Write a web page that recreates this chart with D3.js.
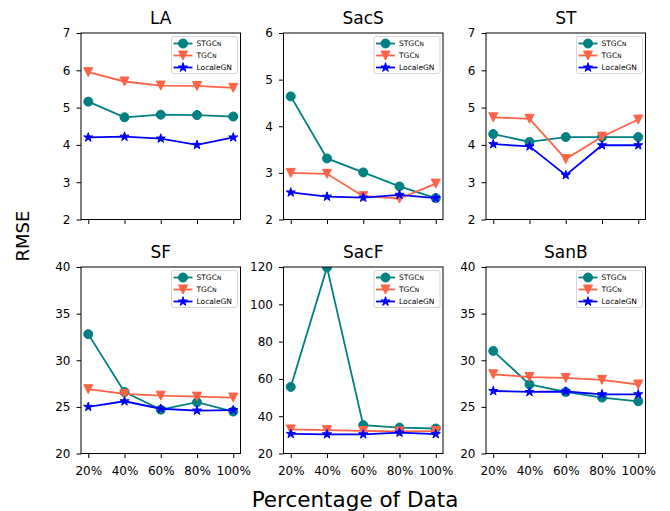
<!DOCTYPE html>
<html>
<head>
<meta charset="utf-8">
<script src="https://cdn.jsdelivr.net/npm/d3@7"></script>
<style>
  body { margin: 0; background: #fff; }
  text { font-family: "DejaVu Sans", sans-serif; }
</style>
</head>
<body>
<div class="container"></div>
<script>
const w = 670;
const h = 511;

// data
const percentLabels = ['20%', '40%', '60%', '80%', '100%'];
const panelNames = ['LA', 'SacS', 'ST', 'SF', 'SacF', 'SanB'];
const yDomains = [[2, 7], [2, 6], [2, 7], [20, 40], [20, 120], [20, 40]];
const yTicks = [
  [2, 3, 4, 5, 6, 7],
  [2, 3, 4, 5, 6],
  [2, 3, 4, 5, 6, 7],
  [20, 25, 30, 35, 40],
  [20, 40, 60, 80, 100, 120],
  [20, 25, 30, 35, 40]
];
const stgcn = [
  [5.16, 4.74, 4.81, 4.80, 4.76],
  [4.64, 3.31, 3.01, 2.71, 2.46],
  [4.29, 4.08, 4.21, 4.21, 4.21],
  [32.8, 26.6, 24.7, 25.5, 24.5],
  [55.7, 119.8, 35.2, 33.9, 33.4],
  [31.0, 27.4, 26.6, 26.0, 25.6]
];
const tgcn = [
  [5.95, 5.70, 5.59, 5.58, 5.53],
  [3.00, 2.98, 2.50, 2.45, 2.77],
  [4.74, 4.70, 3.62, 4.22, 4.68],
  [26.9, 26.4, 26.2, 26.1, 26.0],
  [32.9, 32.5, 32.1, 31.8, 32.0],
  [28.5, 28.2, 28.1, 27.9, 27.4]
];
const localeGN = [
  [4.20, 4.22, 4.17, 4.00, 4.20],
  [2.58, 2.49, 2.47, 2.53, 2.46],
  [4.02, 3.96, 3.19, 3.99, 3.99],
  [25.0, 25.6, 24.8, 24.6, 24.65],
  [30.5, 30.3, 30.3, 31.2, 30.4],
  [26.7, 26.6, 26.65, 26.35, 26.35]
];
const modelNames = ['STGCN', 'TGCN', 'LocaleGN'];
const modelColors = ['#008080', '#ff6347', '#0000ff'];
const modelValues = [stgcn, tgcn, localeGN];

// layout
const colX = [81, 283.5, 486];
const rowY = [33, 267];
const pw = 159.5, ph = 186.5;

// marker shapes (matplotlib-ish o, v, *)
const circleType = {draw: (ctx, size) => { const r = 4.5; ctx.moveTo(r, 0); ctx.arc(0, 0, r, 0, 2 * Math.PI); }};
const triDownType = {draw: (ctx, size) => { const r = 4.5; ctx.moveTo(0, r); ctx.lineTo(-r, -r); ctx.lineTo(r, -r); ctx.closePath(); }};
const starType = {draw: (ctx, size) => {
  const ro = 4.8, ri = ro * 0.382;
  for (let k = 0; k < 10; k++) {
    const r = k % 2 ? ri : ro;
    const a = -Math.PI / 2 + k * Math.PI / 5;
    if (k === 0) ctx.moveTo(r * Math.cos(a), r * Math.sin(a));
    else ctx.lineTo(r * Math.cos(a), r * Math.sin(a));
  }
  ctx.closePath();
}};
const markerTypes = [circleType, triDownType, starType];

const svg = d3.select('.container')
              .append('svg')
              .attr('width', w)
              .attr('height', h);

svg.append('rect').attr('width', w).attr('height', h).attr('fill', '#fff');

panelNames.forEach((name, p) => {
  const row = Math.floor(p / 3), col = p % 3;
  const g = svg.append('g').attr('transform', `translate(${colX[col]},${rowY[row]})`);

  const x = d3.scalePoint().domain(percentLabels).range([0, pw]).padding(0.2);
  const y = d3.scaleLinear().domain(yDomains[p]).range([ph, 0]);

  // clip to axes area
  const clipId = 'clip' + p;
  g.append('clipPath').attr('id', clipId)
   .append('rect').attr('width', pw).attr('height', ph);

  // y axis
  const yAxis = g.append('g')
    .call(d3.axisLeft(y).tickValues(yTicks[p]).tickFormat(d3.format('d')).tickSize(4.5).tickPadding(6));
  yAxis.select('.domain').remove();
  yAxis.selectAll('text').style('font-size', '12px').attr('fill', '#000');

  // x axis
  const xAxis = g.append('g')
    .attr('transform', `translate(0,${ph})`)
    .call(d3.axisBottom(x).tickSize(4.5).tickPadding(8));
  xAxis.select('.domain').remove();
  xAxis.selectAll('text').style('font-size', '12px').attr('fill', '#000');
  if (row === 0) xAxis.selectAll('text').remove();

  // lines and markers
  const plot = g.append('g').attr('clip-path', `url(#${clipId})`);
  modelValues.forEach((vals, m) => {
    const pts = vals[p].map((v, i) => [x(percentLabels[i]), y(v)]);
    plot.append('path')
        .attr('d', d3.line()(pts))
        .attr('fill', 'none')
        .attr('stroke', modelColors[m])
        .attr('stroke-width', 1.8);
    plot.selectAll(null)
        .data(pts)
        .enter()
        .append('path')
        .attr('transform', d => `translate(${d[0]},${d[1]})`)
        .attr('d', d3.symbol().type(markerTypes[m]))
        .attr('fill', modelColors[m])
        .attr('stroke', modelColors[m])
        .attr('stroke-width', 1);
  });

  // frame
  g.append('rect')
   .attr('width', pw).attr('height', ph)
   .attr('fill', 'none').attr('stroke', '#000').attr('stroke-width', 1);

  // title
  g.append('text')
   .attr('x', pw / 2).attr('y', -9)
   .attr('text-anchor', 'middle')
   .style('font-size', '17px')
   .text(name);

  // legend
  const lw = 66, lh = 37;
  const lg = g.append('g').attr('transform', `translate(${pw - 3 - lw},3.5)`);
  lg.append('rect')
    .attr('width', lw).attr('height', lh).attr('rx', 2)
    .attr('fill', '#fff').attr('fill-opacity', 0.8)
    .attr('stroke', '#ccc').attr('stroke-width', 0.8);
  modelNames.forEach((mn, m) => {
    const ly = 7 + m * 12;
    lg.append('line')
      .attr('x1', 2).attr('x2', 21).attr('y1', ly).attr('y2', ly)
      .attr('stroke', modelColors[m]).attr('stroke-width', 1.8);
    lg.append('path')
      .attr('transform', `translate(11.5,${ly})`)
      .attr('d', d3.symbol().type(markerTypes[m]))
      .attr('fill', modelColors[m])
      .attr('stroke', modelColors[m]).attr('stroke-width', 1);
    const t = lg.append('text')
      .attr('x', 25).attr('y', ly + 2.7)
      .style('font-size', '7.5px');
    if (mn === 'LocaleGN') {
      t.text(mn);
    } else {
      t.append('tspan').text(mn.slice(0, -1));
      t.append('tspan').style('font-size', '5.8px').text('N');
    }
  });
});

// axis titles
svg.append('text')
   .attr('x', 355).attr('y', 507)
   .attr('text-anchor', 'middle')
   .style('font-size', '21.5px')
   .text('Percentage of Data');

svg.append('text')
   .attr('transform', 'translate(29,236) rotate(-90)')
   .attr('text-anchor', 'middle')
   .style('font-size', '18px')
   .text('RMSE');
</script>
</body>
</html>
